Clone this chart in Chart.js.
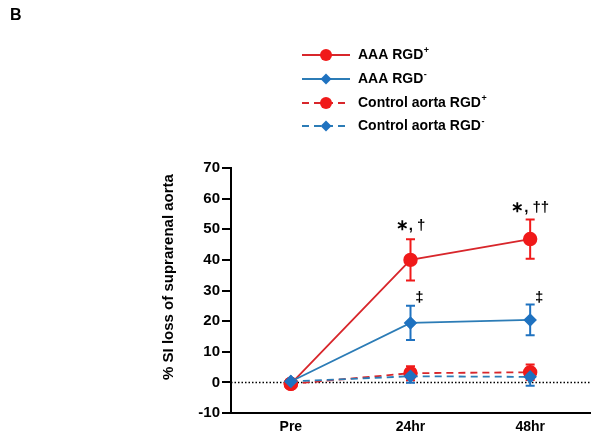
<!DOCTYPE html>
<html>
<head>
<meta charset="utf-8">
<script src="https://cdn.jsdelivr.net/npm/chart.js@4"></script>
<style>
  html, body { margin: 0; padding: 0; background: #fff; }
  #wrap { width: 601px; height: 439px; position: relative; }
</style>
</head>
<body>
<div id="wrap"><canvas id="grafico"></canvas></div>
<script>
// Dados
const timepoints = ['Pre', '24hr', '48hr'];
const yTicks = [-10, 0, 10, 20, 30, 40, 50, 60, 70];
const yTitle = '% SI loss of suprarenal aorta';

const aaaPos = [-0.5, 40.0, 46.8];
const aaaPosErr = [0, 6.7, 6.4];
const aaaNeg = [0.3, 19.4, 20.4];
const aaaNegErr = [0, 5.6, 5.0];
const ctrlPos = [-0.5, 3.0, 3.3];
const ctrlPosErr = [0, 2.3, 2.5];
const ctrlNeg = [0.3, 2.0, 1.8];
const ctrlNegErr = [0, 2.1, 2.9];

const seriesNames = ['AAA RGD', 'AAA RGD', 'Control aorta RGD', 'Control aorta RGD'];
const seriesSup = ['+', '-', '+', '-'];

// anotações de significância
const annotText = ['\u2217, \u2020', '\u2217, \u2020\u2020', '\u2021', '\u2021'];
const annotCat = [1, 2, 1, 2];
const annotValue = [51, 57, 27.5, 27.5];

const RED = '#f01a1a';
const RED_LINE = '#d8262b';
const BLUE = '#1f72c0';
const BLUE_LINE = '#2c7cb6';

const FONT = '"Liberation Sans", Arial, sans-serif';

function serie(label, data, err, cor, corLinha, estilo, tracejado, ordem) {
    return {
        label: label,
        data: data,
        err: err,
        borderColor: corLinha,
        backgroundColor: cor,
        pointBackgroundColor: cor,
        pointBorderColor: cor,
        pointStyle: estilo,
        pointRadius: estilo === 'circle' ? 6.3 : 5.5,
        borderWidth: 1.8,
        borderDash: tracejado ? [7, 5] : [],
        tension: 0,
        order: ordem
    };
}

const datasets = [
    serie('AAA RGD+', aaaPos, aaaPosErr, RED, RED_LINE, 'circle', false, 1),
    serie('AAA RGD-', aaaNeg, aaaNegErr, BLUE, BLUE_LINE, 'rectRot', false, 0),
    serie('Control aorta RGD+', ctrlPos, ctrlPosErr, RED, RED_LINE, 'circle', true, 3),
    serie('Control aorta RGD-', ctrlNeg, ctrlNegErr, BLUE, BLUE_LINE, 'rectRot', true, 2)
];

// barras de erro + linha pontilhada no zero
const errorBars = {
    id: 'errorBars',
    beforeDatasetsDraw(chart) {
        const ctx = chart.ctx;
        const x = chart.scales.x, y = chart.scales.y;
        ctx.save();
        // linha do zero
        ctx.strokeStyle = '#000';
        ctx.lineWidth = 1.5;
        ctx.setLineDash([1.5, 2]);
        ctx.beginPath();
        ctx.moveTo(chart.chartArea.left, y.getPixelForValue(0));
        ctx.lineTo(chart.chartArea.right, y.getPixelForValue(0));
        ctx.stroke();
        ctx.setLineDash([]);
        chart.data.datasets.forEach(ds => {
            ctx.strokeStyle = ds.pointBackgroundColor;
            ctx.lineWidth = 2;
            ds.data.forEach((v, i) => {
                if (!ds.err[i]) return;
                const px = x.getPixelForValue(i);
                const top = y.getPixelForValue(v + ds.err[i]);
                const bot = y.getPixelForValue(v - ds.err[i]);
                ctx.beginPath();
                ctx.moveTo(px, top); ctx.lineTo(px, bot);
                ctx.moveTo(px - 4.5, top); ctx.lineTo(px + 4.5, top);
                ctx.moveTo(px - 4.5, bot); ctx.lineTo(px + 4.5, bot);
                ctx.stroke();
            });
        });
        ctx.restore();
    }
};

// legenda, anotações, título do eixo e letra do painel
const extras = {
    id: 'extras',
    afterDraw(chart) {
        const ctx = chart.ctx;
        const x = chart.scales.x, y = chart.scales.y;
        ctx.save();
        ctx.fillStyle = '#000';
        ctx.font = 'bold 16px ' + FONT;
        ctx.textBaseline = 'alphabetic';
        ctx.fillText('B', 10, 20);

        // título do eixo y
        ctx.save();
        ctx.translate(169, 277);
        ctx.rotate(-Math.PI / 2);
        ctx.textAlign = 'center';
        ctx.textBaseline = 'middle';
        ctx.font = 'bold 15px ' + FONT;
        ctx.fillText(yTitle, 0, 0);
        ctx.restore();

        // anotações
        ctx.textAlign = 'center';
        ctx.textBaseline = 'middle';
        annotText.forEach((t, i) => {
            const px = x.getPixelForValue(annotCat[i]) + (t === '\u2021' ? 9 : 0);
            ctx.font = 'bold 15px ' + FONT;
            ctx.fillText(t, px, y.getPixelForValue(annotValue[i]));
        });

        // legenda
        const x0 = 302, x1 = 350, xm = 326, xt = 358;
        const rows = [55, 79, 103, 126];
        datasets.forEach((ds, i) => {
            const yy = rows[i];
            ctx.strokeStyle = ds.borderColor;
            ctx.lineWidth = 1.8;
            ctx.setLineDash(ds.borderDash);
            ctx.beginPath();
            ctx.moveTo(x0, yy); ctx.lineTo(x1, yy);
            ctx.stroke();
            ctx.setLineDash([]);
            ctx.fillStyle = ds.pointBackgroundColor;
            ctx.beginPath();
            if (ds.pointStyle === 'circle') {
                ctx.arc(xm, yy, 6, 0, Math.PI * 2);
            } else {
                ctx.moveTo(xm, yy - 5.5); ctx.lineTo(xm + 5.5, yy);
                ctx.lineTo(xm, yy + 5.5); ctx.lineTo(xm - 5.5, yy);
                ctx.closePath();
            }
            ctx.fill();
            ctx.fillStyle = '#000';
            ctx.textAlign = 'left';
            ctx.textBaseline = 'middle';
            ctx.font = 'bold 14px ' + FONT;
            ctx.fillText(seriesNames[i], xt, yy);
            const w = ctx.measureText(seriesNames[i]).width;
            ctx.font = 'bold 9px ' + FONT;
            ctx.fillText(seriesSup[i], xt + w + 0.5, yy - 4);
        });
        ctx.restore();
    }
};

const ctx = document.getElementById('grafico').getContext('2d');
new Chart(ctx, {
    type: 'line',
    data: { labels: timepoints, datasets: datasets },
    options: {
        responsive: true,
        maintainAspectRatio: false,
        animation: false,
        layout: { padding: { left: 155, top: 168, right: 11, bottom: 0 } },
        plugins: { legend: { display: false }, tooltip: { enabled: false } },
        scales: {
            x: {
                type: 'category',
                offset: true,
                grid: { display: false, drawTicks: false },
                border: { display: true, color: '#000', width: 2 },
                ticks: { color: '#000', font: { family: FONT, size: 14, weight: 'bold' }, padding: 6 },
                afterFit: s => { s.height = 26; }
            },
            y: {
                min: -10,
                max: 70,
                afterBuildTicks: s => { s.ticks = yTicks.map(v => ({ value: v })); },
                grid: { display: true, drawOnChartArea: false, drawTicks: true, tickLength: 9, color: '#000', lineWidth: 2 },
                border: { display: true, color: '#000', width: 2 },
                ticks: { color: '#000', font: { family: FONT, size: 15, weight: 'bold' }, padding: 2 },
                title: { display: false },
                afterFit: s => { s.width = 76; }
            }
        }
    },
    plugins: [errorBars, extras]
});
</script>
</body>
</html>
